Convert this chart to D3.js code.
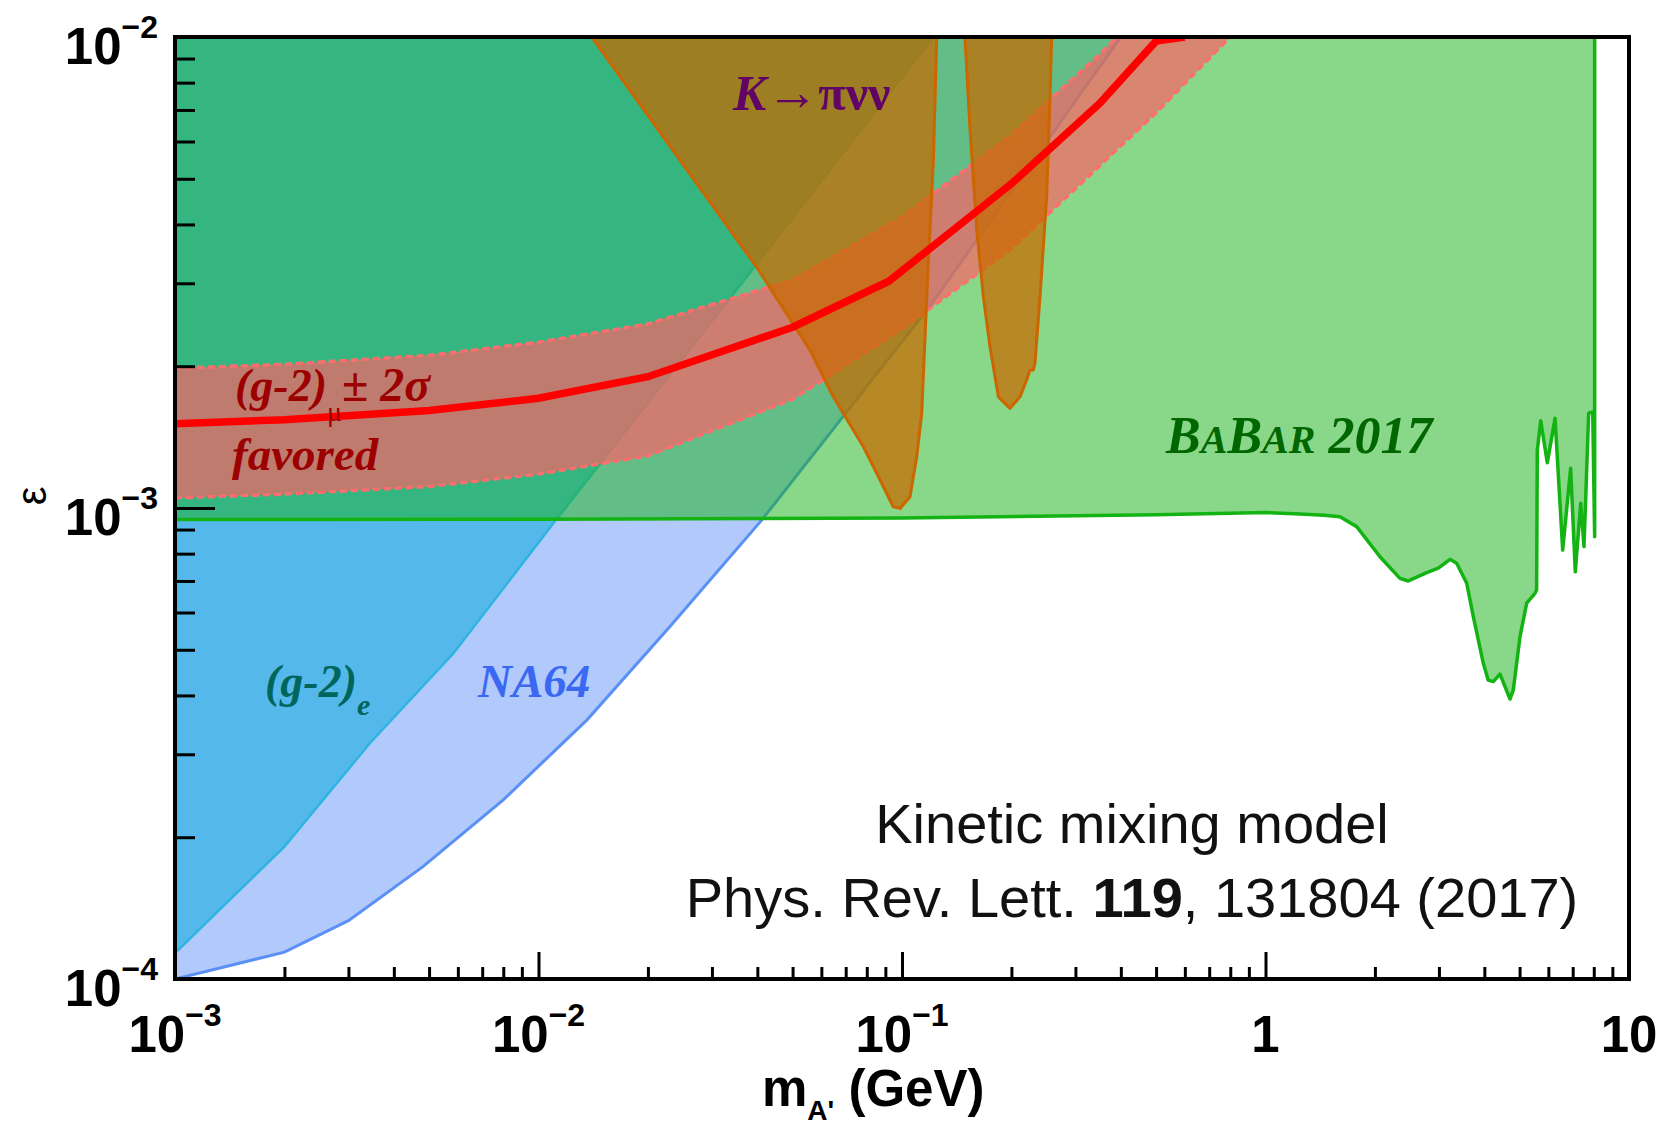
<!DOCTYPE html>
<html><head><meta charset="utf-8">
<script src="https://cdn.jsdelivr.net/npm/d3@7"></script>
<style>body{margin:0;background:#fff} svg{display:block}</style>
</head><body>
<svg id="c" width="1662" height="1127"></svg>
<script>
// ---------------- data (m in GeV, epsilon) ----------------
const xTickValues = [1e-3, 1e-2, 1e-1, 1, 10];
const xTickLabels = [["10","−3"],["10","−2"],["10","−1"],["1",""],["10",""]];
const yTickValues = [1e-4, 1e-3, 1e-2];
const yTickLabels = [["10","−4"],["10","−3"],["10","−2"]];

const gm2eBound = [[1e-3,1.135e-4],[2e-3,1.91e-4],[3.44e-3,3.17e-4],[5.83e-3,4.91e-4],[0.0112,9.46e-4],[0.04,3.31e-3],[0.122,1.0e-2]];
const na64Bound = [[1e-3,1.0e-4],[2e-3,1.14e-4],[3e-3,1.33e-4],[4.8e-3,1.73e-4],[8e-3,2.4e-4],[0.0136,3.55e-4],[0.023,5.6e-4],[0.041,9.4e-4],[0.12,2.7e-3],[0.4,1.0e-2]];
const babarBound = [[1e-3,9.45e-4],[0.01,9.47e-4],[0.1,9.52e-4],[0.5,9.68e-4],[1.0,9.78e-4],[1.244,9.71e-4],[1.45,9.65e-4],[1.603,9.58e-4],[1.782,9.13e-4],[2.065,7.88e-4],[2.344,7.09e-4],[2.471,7.0e-4],[2.777,7.29e-4],[2.988,7.45e-4],[3.218,7.78e-4],[3.357,7.63e-4],[3.578,6.92e-4],[3.73,5.88e-4],[3.974,4.68e-4],[4.10,4.31e-4],[4.233,4.28e-4],[4.417,4.44e-4],[4.706,3.93e-4],[4.805,4.11e-4],[5.013,5.33e-4],[5.231,6.28e-4],[5.512,6.59e-4],[5.57,6.7e-4],[5.594,1.327e-3],[5.717,1.532e-3],[5.96,1.248e-3],[6.26,1.55e-3],[6.57,8.14e-4],[6.91,1.215e-3],[7.116,7.32e-4],[7.364,1.023e-3],[7.52,8.28e-4],[7.745,1.589e-3],[7.946,1.6e-3],[8.045,8.69e-4],[8.045,1.0e-2]];
const kpnnLeft = [[0.014,1.0e-2],[0.0398,3.25e-3],[0.0558,2.165e-3],[0.0647,1.722e-3],[0.0783,1.349e-3],[0.0852,1.185e-3],[0.0946,1.006e-3],[0.0988,9.98e-4],[0.1052,1.057e-3],[0.1098,1.285e-3],[0.1133,1.589e-3],[0.1181,3.31e-3],[0.1219,5.39e-3],[0.1246,1.0e-2]];
const kpnnRight = [[0.149,1.0e-2],[0.1539,6.35e-3],[0.1606,3.89e-3],[0.1674,2.81e-3],[0.1746,2.2e-3],[0.1841,1.722e-3],[0.1982,1.628e-3],[0.2112,1.722e-3],[0.2203,1.87e-3],[0.225,1.963e-3],[0.2297,1.963e-3],[0.2322,2.03e-3],[0.2397,2.81e-3],[0.25,4.58e-3],[0.2554,7.47e-3],[0.258,1.0e-2]];
const gm2muCenter = [[1e-3,1.51e-3],[2e-3,1.54e-3],[5e-3,1.61e-3],[0.01,1.71e-3],[0.02,1.90e-3],[0.05,2.42e-3],[0.092,3.03e-3],[0.2,4.88e-3],[0.35,7.23e-3],[0.5,9.8e-3],[0.6,1.0e-2]];
const gm2muUpper = [[1e-3,1.98e-3],[2e-3,2.02e-3],[5e-3,2.11e-3],[0.01,2.25e-3],[0.02,2.46e-3],[0.05,3.05e-3],[0.1,4.15e-3],[0.2,6.2e-3],[0.35,9.2e-3],[0.39,1.0e-2]];
const gm2muLower = [[1e-3,1.05e-3],[2e-3,1.07e-3],[5e-3,1.11e-3],[0.01,1.18e-3],[0.02,1.29e-3],[0.05,1.70e-3],[0.1,2.4e-3],[0.2,3.55e-3],[0.5,6.9e-3],[0.8,1.0e-2]];

// ---------------- layout ----------------
const L = 175, R = 1629, T = 37, B = 979;
const svg = d3.select("#c");
const x = d3.scaleLog().domain([1e-3, 10]).range([L, R]);
const y = d3.scaleLog().domain([1e-4, 1e-2]).range([B, T]);
const [x0, x1] = x.domain(), [y0, y1] = y.domain();

svg.append("defs").append("clipPath").attr("id", "plot")
  .append("rect").attr("x", L).attr("y", T).attr("width", R - L).attr("height", B - T);

const g = svg.append("g").attr("clip-path", "url(#plot)");
const line = d3.line().x(d => x(d[0])).y(d => y(d[1]));

// NA64
g.append("path").attr("d", line([[x0, y1], ...na64Bound]) + "Z").attr("fill", "#b1c9fb");
g.append("path").attr("d", line(na64Bound)).attr("fill", "none").attr("stroke", "#5b90f5").attr("stroke-width", 3);
// (g-2)_e
g.append("path").attr("d", line([[x0, y1], ...gm2eBound]) + "Z").attr("fill", "#55b8ea");
g.append("path").attr("d", line(gm2eBound)).attr("fill", "none").attr("stroke", "#2fb4e2").attr("stroke-width", 2.5);
// BaBar
g.append("path").attr("d", line([[x0, y1], ...babarBound]) + "Z").attr("fill", "rgb(23,179,23)").attr("fill-opacity", 0.51);
g.append("path").attr("d", line(babarBound)).attr("fill", "none").attr("stroke", "#12b312").attr("stroke-width", 3.5).attr("stroke-linejoin", "round");
// (g-2)_mu band
g.append("path").attr("d", line([...gm2muUpper, ...gm2muLower.slice().reverse()]) + "Z")
  .attr("fill", "rgb(251,100,103)").attr("fill-opacity", 0.7);
[gm2muUpper, gm2muLower].forEach(b => {
  g.append("path").attr("d", line(b)).attr("fill", "none").attr("stroke", "#ff6e6e")
    .attr("stroke-width", 3.2).attr("stroke-dasharray", "7,4");
});
// K -> pi nu nu
[kpnnLeft, kpnnRight].forEach(k => {
  g.append("path").attr("d", line(k) + "Z").attr("fill", "rgb(200,105,0)").attr("fill-opacity", 0.72)
    .attr("stroke", "#cc6600").attr("stroke-width", 3).attr("stroke-linejoin", "round");
});
// central (g-2)_mu line
g.append("path").attr("d", line(gm2muCenter)).attr("fill", "none").attr("stroke", "#ff0000").attr("stroke-width", 7.5);

// ---------------- labels ----------------
const serif = "'Liberation Serif', 'Times New Roman', serif";
function lab(xp, yp, parts, color) {
  const t = svg.append("text").attr("x", xp).attr("y", yp).attr("fill", color).attr("font-family", serif);
  parts.forEach(p => {
    const s = t.append("tspan").text(p.t).attr("font-size", p.s || 46)
      .attr("font-weight", p.w || "bold").attr("font-style", p.i === false ? "normal" : "italic");
    if (p.dy) s.attr("dy", p.dy);
  });
  return t;
}
lab(733, 110, [{t: "K", s: 50}, {t: "→", w: "normal", i: false, s: 52}, {t: "πνν", i: false, s: 50}], "#600565");
lab(235, 401, [{t: "(g-2)"}, {t: "μ", s: 28, w: "normal", i: false, dy: 20}, {t: "± 2σ", s: 48, dy: -20}], "#9c0000");
lab(232, 470, [{t: "favored", s: 47}], "#9c0000");
lab(265, 697, [{t: "(g-2)"}, {t: "e", s: 30, dy: 18}], "#00665c");
lab(478, 697, [{t: "NA64", s: 47}], "#3a68f2");
lab(1166, 453, [{t: "B", s: 52}, {t: "A", s: 40}, {t: "B", s: 52}, {t: "AR", s: 40}, {t: " 2017", s: 52}], "#006600");

const sans = "'Liberation Sans', Arial, Helvetica, sans-serif";
svg.append("text").attr("x", 1132).attr("y", 843).attr("text-anchor", "middle")
  .attr("font-family", sans).attr("font-size", 56).attr("fill", "#111").text("Kinetic mixing model");
const ref = svg.append("text").attr("x", 1132).attr("y", 917).attr("text-anchor", "middle")
  .attr("font-family", sans).attr("font-size", 56).attr("fill", "#111");
ref.append("tspan").text("Phys. Rev. Lett. ");
ref.append("tspan").attr("font-weight", "bold").text("119");
ref.append("tspan").text(", 131804 (2017)");

// ---------------- axes ----------------
const minorX = [], minorY = [];
for (let d = -3; d < 1; d++) for (let k = 2; k <= 9; k++) minorX.push(k * Math.pow(10, d));
for (let d = -4; d < -2; d++) for (let k = 2; k <= 9; k++) minorY.push(k * Math.pow(10, d));

function styleAxis(sel) {
  sel.select(".domain").remove();
  sel.selectAll("line").attr("stroke", "#000").attr("stroke-width", 3);
  sel.selectAll("text").remove();
}
svg.append("g").attr("transform", `translate(0,${B})`)
  .call(d3.axisBottom(x).tickValues(minorX).tickSize(-12).tickFormat("")).call(styleAxis);
svg.append("g").attr("transform", `translate(0,${B})`)
  .call(d3.axisBottom(x).tickValues(xTickValues).tickSize(-27).tickFormat("")).call(styleAxis);
svg.append("g").attr("transform", `translate(${L},0)`)
  .call(d3.axisLeft(y).tickValues(minorY).tickSize(-20).tickFormat("")).call(styleAxis);
svg.append("g").attr("transform", `translate(${L},0)`)
  .call(d3.axisLeft(y).tickValues(yTickValues).tickSize(-40).tickFormat("")).call(styleAxis);

// frame
svg.append("rect").attr("x", L).attr("y", T).attr("width", R - L).attr("height", B - T)
  .attr("fill", "none").attr("stroke", "#000").attr("stroke-width", 4);

// tick labels
function powLabel(xp, yp, lb, anchor) {
  const t = svg.append("text").attr("x", xp).attr("y", yp).attr("text-anchor", anchor)
    .attr("font-family", sans).attr("font-weight", "bold").attr("font-size", 51).attr("fill", "#000");
  t.append("tspan").text(lb[0]);
  if (lb[1]) t.append("tspan").attr("font-size", 32).attr("dy", -26).text(lb[1]);
}
xTickValues.forEach((v, i) => powLabel(x(v), 1052, xTickLabels[i], "middle"));
yTickValues.forEach((v, i) => powLabel(158, y(v) + 27, yTickLabels[i], "end"));

// axis titles
svg.append("text").attr("transform", "translate(46,496) rotate(-90)").attr("text-anchor", "middle")
  .attr("font-family", sans).attr("font-size", 42).attr("fill", "#000").text("ε");
const xt = svg.append("text").attr("x", 762).attr("y", 1106).attr("font-family", sans)
  .attr("font-weight", "bold").attr("font-size", 51).attr("fill", "#000");
xt.append("tspan").text("m");
xt.append("tspan").attr("font-size", 28).attr("dy", 14).text("A'");
xt.append("tspan").attr("dy", -14).text(" (GeV)");
</script>
</body></html>
